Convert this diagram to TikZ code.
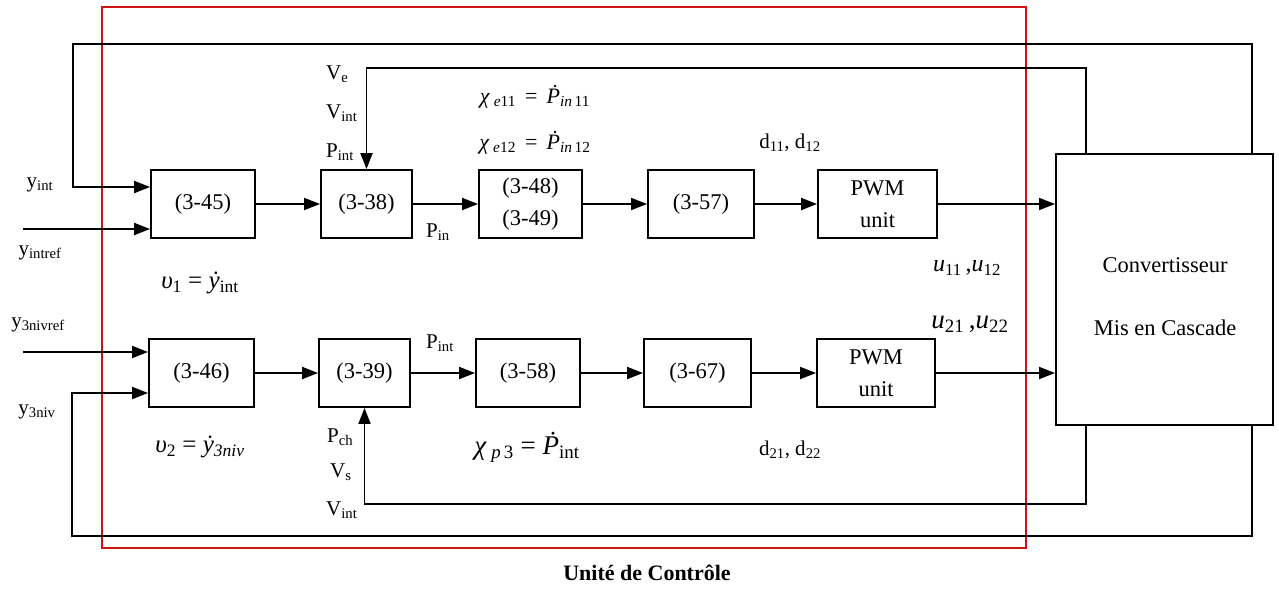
\documentclass[tikz,border=0pt]{standalone}
\usepackage{fontspec}
\setmainfont{Liberation Serif}
\usetikzlibrary{arrows.meta,calc}
\definecolor{redline}{RGB}{205,20,20}
\newcommand{\sbx}[1]{\textsubscript{#1}}
\begin{document}
\begin{tikzpicture}[x=1pt,y=-1pt,
  blk/.style={draw,line width=1.9pt,minimum height=68pt,inner sep=0pt,align=center,font=\fontsize{22.5}{26}\selectfont},
  wire/.style={line width=1.9pt},
  arr/.style={wire,-{Triangle[length=16pt,width=12pt]}},
  lbl/.style={inner sep=0pt,font=\fontsize{21}{24}\selectfont},
  cvt/.style={inner sep=0pt,font=\fontsize{22.5}{26}\selectfont},
]
\useasboundingbox (0,0) rectangle (1279,590);
% red frame
\draw[redline,line width=1.6pt] (102,7) rectangle (1026,548);
% row 1 blocks
\node[blk,minimum width=104pt] (b45) at (203,204) {(3-45)};
\node[blk,minimum width=91pt] (b38) at (366.5,204) {(3-38)};
\node[blk,minimum width=103pt] (b48) at (530.5,204) {(3-48)\\[6pt](3-49)};
\node[blk,minimum width=106pt] (b57) at (701,204) {(3-57)};
\node[blk,minimum width=119pt] (pwm1) at (877.5,204) {PWM\\[6pt]unit};
% row 2 blocks
\node[blk,minimum width=105pt] (b46) at (201.5,373) {(3-46)};
\node[blk,minimum width=91pt] (b39) at (364.5,373) {(3-39)};
\node[blk,minimum width=104pt] (b58) at (528,373) {(3-58)};
\node[blk,minimum width=107pt] (b67) at (697.5,373) {(3-67)};
\node[blk,minimum width=118pt] (pwm2) at (876,373) {PWM\\[6pt]unit};
% converter
\node[blk,minimum width=217pt,minimum height=271pt] (conv) at (1164.5,289.5) {};
\node[cvt] (conv1) at (1165,265) {Convertisseur};
\node[cvt] (conv2) at (1165,328) {Mis en Cascade};
% forward arrows
\draw[arr] (b45) -- (b38);
\draw[arr] (b38) -- (b48);
\draw[arr] (b48) -- (b57);
\draw[arr] (b57) -- (pwm1);
\draw[arr] (pwm1.east) -- (pwm1.east -| conv.west);
\draw[arr] (b46) -- (b39);
\draw[arr] (b39) -- (b58);
\draw[arr] (b58) -- (b67);
\draw[arr] (b67) -- (pwm2);
\draw[arr] (pwm2.east) -- (pwm2.east -| conv.west);
% external inputs
\coordinate (in1) at (23,229);
\coordinate (in2) at (23,352);
\draw[arr] (in1) -- (in1 -| b45.west);
\draw[arr] (in2) -- (in2 -| b46.west);
% feedback loops
\coordinate (top1) at (73,44);
\coordinate (top2) at (0,68);
\coordinate (bot1) at (0,504);
\coordinate (bot2) at (72,536);
\draw[arr] ([xshift=-22pt]conv.north east) |- (top1) |- ([yshift=17pt]b45.west);
\draw[arr] ([xshift=31pt]conv.north west) |- (b38.north |- top2) -- (b38.north);
\draw[arr] ([xshift=31pt]conv.south west) |- (b39.south |- bot1) -- (b39.south);
\draw[arr] ([xshift=-22pt]conv.south east) |- (bot2) |- ([yshift=-20pt]b46.west);
% labels left
\node[lbl] (lyint) at (40,185) {y\sbx{int}};
\node[lbl] (lyintref) at (40,253) {y\sbx{intref}};
\node[lbl] (ly3ref) at (38,325) {y\sbx{3nivref}};
\node[lbl] (ly3) at (37,412) {y\sbx{3niv}};
% labels above 3-38
\node[lbl,anchor=west] (lVe) at (326,74) {V\sbx{e}};
\node[lbl,anchor=west] (lVint) at (326,113) {V\sbx{int}};
\node[lbl,anchor=west] (lPint) at (326,152) {P\sbx{int}};
% labels below 3-39
\node[lbl,anchor=west] (lPch) at (327,437) {P\sbx{ch}};
\node[lbl,anchor=west] (lVs) at (330,472) {V\sbx{s}};
\node[lbl,anchor=west] (lVint2) at (326,510) {V\sbx{int}};
% other labels
\node[lbl] (lPin) at (438,232) {P\sbx{in}};
\node[lbl] (lPint2) at (440,343) {P\sbx{int}};
\node[lbl,font=\fontsize{22}{24}\selectfont] (lchi1) at (535,97) {\textit{χ}\,\textsubscript{\textit{e}11}\, = \,\textit{\.P}\textsubscript{\textit{in}\,11}};
\node[lbl,font=\fontsize{22}{24}\selectfont] (lchi2) at (535,143) {\textit{χ}\,\textsubscript{\textit{e}12}\, = \,\textit{\.P}\textsubscript{\textit{in}\,12}};
\node[lbl] (ld1) at (790,143) {d\sbx{11}, d\sbx{12}};
\node[lbl] (ld2) at (790,450) {d\sbx{21}, d\sbx{22}};
\node[lbl,font=\fontsize{25}{28}\selectfont] (lu1) at (200,283) {\textit{υ}\sbx{1} = \textit{\.y}\sbx{int}};
\node[lbl,font=\fontsize{25}{28}\selectfont] (lu2) at (200,447) {\textit{υ}\sbx{2} = \textit{\.y}\sbx{\textit{3niv}}};
\node[lbl,font=\fontsize{27}{30}\selectfont] (lchi3) at (527,447) {\textit{χ}\,\textsubscript{\textit{p}\,3} = \textit{\.P}\sbx{int}};
\node[lbl,font=\fontsize{24}{28}\selectfont] (lu11) at (967,268) {\textit{u}\sbx{11}\,,\textit{u}\sbx{12}};
\node[lbl,font=\fontsize{27}{30}\selectfont] (lu21) at (970,324) {\textit{u}\sbx{21}\,,\textit{u}\sbx{22}};
\node[lbl,font=\bfseries\fontsize{22}{26}\selectfont] (ltitle) at (647,573) {Unité de Contrôle};
\end{tikzpicture}
\end{document}
